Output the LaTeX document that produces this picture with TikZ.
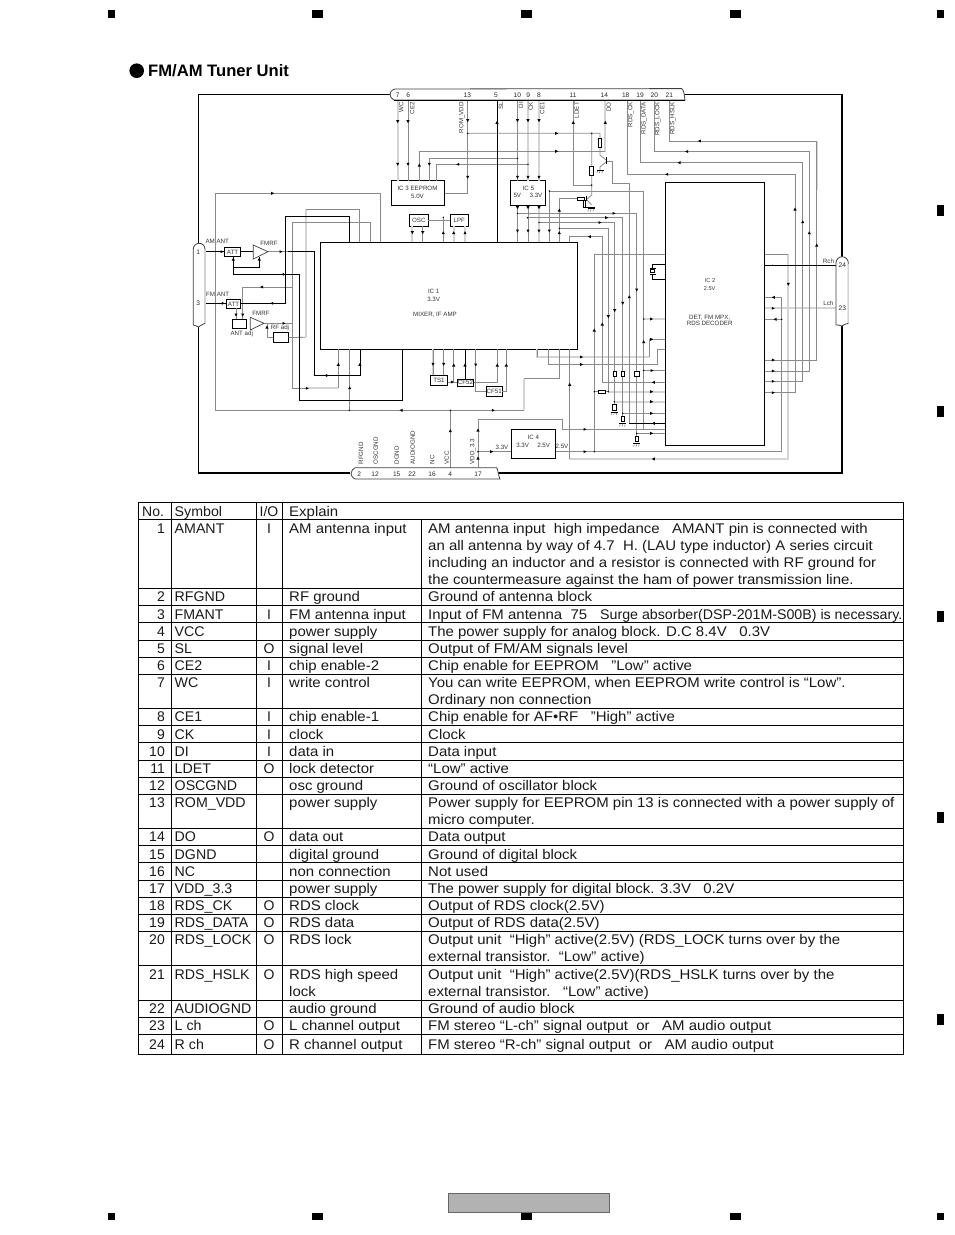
\documentclass[tikz,border=0pt]{standalone}
\usepackage{fontspec}
\setmainfont{Liberation Sans}
\newfontfamily\widefont[FakeStretch=1.07]{Liberation Sans}
\newfontfamily\symfont[FakeStretch=1.015]{Liberation Sans}
\usepackage{tikz}
\usetikzlibrary{arrows,positioning}

\definecolor{wiregray}{HTML}{8A8A8A}
\definecolor{wirelight}{HTML}{D4D4D4}

\tikzset{
  wire/.style={wiregray,line width=.8pt},
  wirek/.style={black,line width=1pt},
  wirel/.style={wirelight,line width=2pt},
  frameline/.style={black,line width=1.3pt},
  shell/.style={black!75,line width=.8pt},
  blk/.style={draw=black,line width=.9pt,fill=white,inner sep=0pt,outer sep=0pt},
  res/.style={blk,line width=.8pt},
  lbl/.style={inner sep=0pt,text=black!80,font=\fontsize{6.2}{7}\selectfont},
  pinno/.style={inner sep=0pt,text height=4.6pt,text depth=0pt,text=black!85,font=\fontsize{6.6}{7}\selectfont},
  cell/.style={inner sep=0pt,text=black!90,font=\fontsize{14}{15}\selectfont},
  cellwide/.style={cell,font=\widefont\fontsize{14}{15}\selectfont},
  cellsym/.style={cell,font=\symfont\fontsize{14}{15}\selectfont},
  grid/.style={black,line width=.9pt},
}

\newcommand{\tipd}[2]{\fill (#1,#2) ++(-1.6,-1.5) -- ++(3.2,0) -- ++(-1.6,3) -- cycle;}
\newcommand{\tipu}[2]{\fill (#1,#2) ++(-1.6,1.5) -- ++(3.2,0) -- ++(-1.6,-3) -- cycle;}
\newcommand{\tipr}[2]{\fill (#1,#2) ++(-1.5,-1.5) -- ++(0,3) -- ++(3,-1.5) -- cycle;}
\newcommand{\tipl}[2]{\fill (#1,#2) ++(1.5,-1.5) -- ++(0,3) -- ++(-3,-1.5) -- cycle;}
\newcommand{\dotat}[2]{\fill (#1,#2) circle (.8);}
\newcommand{\gnd}[2]{\draw[black,line width=.7pt] (#1-3.5,#2) -- (#1+3.5,#2);
  \draw[black!70,line width=.4pt] (#1-2.5,#2+1) -- ++(-.6,2) (#1,#2+1) -- ++(-.6,2) (#1+2.5,#2+1) -- ++(-.6,2);}
\newcommand{\tablerow}[6]{%
  \node[cell,anchor=base east] (no#2) at (165,#1+5) {#2};
  \node[cellsym,anchor=base west] (sym#2) at (174.5,#1+5) {#3};
  \if\relax\detokenize{#4}\relax\else\node[cell,anchor=base] (io#2) at (269,#1+5) {#4};\fi
  \node[cellwide,anchor=base west] (sig#2) at (289,#1+5) {#5};
  \node[cellwide,anchor=base west] (exp#2) at (428,#1+5) {#6};}
\newcommand{\tablemore}[4]{\node[cellwide,anchor=base west] (#1) at (#2,#3+5) {#4};}

\begin{document}
\begin{tikzpicture}[x=1pt,y=-1pt]
  \useasboundingbox (0,0) rectangle (954,1235);

  % page marks
  \fill (107.5,10) rectangle (114.5,17.5);
  \fill (311.5,10) rectangle (322.5,17.5);
  \fill (520.5,10) rectangle (531.5,17.5);
  \fill (729.5,10) rectangle (740.5,17.5);
  \fill (936.5,10) rectangle (943.5,17.5);
  \fill (936.5,205) rectangle (943.5,216);
  \fill (936.5,406) rectangle (943.5,417);
  \fill (936.5,611) rectangle (943.5,622);
  \fill (936.5,812) rectangle (943.5,823);
  \fill (936.5,1014) rectangle (943.5,1025);
  \fill (107.5,1212.5) rectangle (114.5,1219.5);
  \fill (311.5,1212.5) rectangle (322.5,1219.5);
  \fill (520.5,1212.5) rectangle (531.5,1219.5);
  \fill (729.5,1212.5) rectangle (740.5,1219.5);
  \fill (936.5,1212.5) rectangle (943.5,1219.5);
  \draw[draw=black!60,fill=black!30,line width=.8pt] (448.5,1193.5) rectangle (609.5,1212.5);

  % heading
  \fill (136.7,70.7) circle (7.3);
  \node[inner sep=0pt,anchor=base west,font=\fontsize{16.6}{18}\selectfont\bfseries] (title) at (148,76) {FM/AM Tuner Unit};

  % pins
  \coordinate (p7) at (397.7,100);
  \coordinate (p6) at (408,100);
  \coordinate (p13) at (467.7,100);
  \coordinate (p5) at (497,100);
  \coordinate (p10) at (517.5,100);
  \coordinate (p9) at (528,100);
  \coordinate (p8) at (539,100);
  \coordinate (p11) at (573.3,100);
  \coordinate (p14) at (605,100);
  \coordinate (p18) at (627,100);
  \coordinate (p19) at (640.7,100);
  \coordinate (p20) at (654.3,100);
  \coordinate (p21) at (669.3,100);
  \coordinate (p4) at (450.3,467.7);
  \coordinate (p17) at (478,467.7);
  \coordinate (p1) at (205,251.7);
  \coordinate (p3) at (205,303.3);
  \coordinate (p24) at (836,265.3);
  \coordinate (p23) at (836,308.3);

  % blocks
  \node[blk,minimum width=53pt,minimum height=24.5pt] (ic3) at (418.2,193) {};
  \node[blk,minimum width=18.3pt,minimum height=12pt] (osc) at (418.8,220) {};
  \node[blk,minimum width=18pt,minimum height=12pt] (lpf) at (459.3,220) {};
  \node[blk,minimum width=34.6pt,minimum height=25pt] (ic5) at (528,193.2) {};
  \node[blk,minimum width=257.4pt,minimum height=107pt] (ic1) at (449,295.8) {};
  \node[blk,minimum width=99.4pt,minimum height=263pt] (ic2) at (715,313.8) {};
  \node[blk,minimum width=44.4pt,minimum height=29pt] (ic4) at (533.5,444.2) {};
  \node[blk,minimum width=16.4pt,minimum height=8.6pt] (att1) at (232.5,252) {};
  \node[blk,minimum width=14pt,minimum height=8.6pt] (att2) at (233.5,303.9) {};
  \node[blk,minimum width=14.4pt,minimum height=9.4pt] (antadj) at (239.5,324) {};
  \node[blk,minimum width=15.4pt,minimum height=9.6pt] (rfadj) at (281,337.5) {};
  \node[blk,minimum width=17.4pt,minimum height=10pt] (ts1) at (439,380.3) {};
  \node[blk,minimum width=16.4pt,minimum height=7.7pt] (cf52) at (465.5,382.8) {};
  \node[blk,minimum width=16pt,minimum height=9.3pt] (cf51) at (494.3,391.3) {};

  % wires, light ones below
  \draw[wirel] (p7) -- (p7 |- ic3.north);
  \draw[wirel] (p9) -- (p9 |- ic5.north);
  \draw[wirel] (p8) -- (p8 |- ic5.north);
  \draw[wirel] (p14) -- (605,151.5);
  \draw[wirel] (412.3,226) -- (412.3,242.3);
  \draw[wirel] (453.7,226) -- (453.7,242.3);
  \draw[wirel] (465,226) -- (465,242.3);
  \draw[wirel] (539,205.7) -- (539,242.3);
  \draw[wirel,line width=1.4pt] (433,349.3) -- (433,375.3);
  \draw[wirel,line width=1.4pt] (443.7,349.3) -- (443.7,375.3);
  \draw[wirel] (305.7,209.3) -- (305.7,337.3);
  \draw[wirel] (307,388.3) -- (338.3,388.3);
  \draw[wirel] (537.3,349.3) |- (649.3,357);
  \draw[wirel] (524,410.3) -- (524,378.7);
  \draw[wirel] (569.3,458.7) -- (788.3,458.7) -- (788.3,254.3);
  \draw[wirel] (p23) -- (p23 -| ic2.east);
  \draw[wirel] (608.3,391.7) -- (665,391.7);
  \draw[wirel] (614.3,401.7) -- (665,401.7);
  \draw[wirel] (643.7,319) -- (665,319);
  \draw[wirel] (816.7,141) -- (816.7,190);

  % thin wires
  \draw[wire] (p6) -- (p6 |- ic3.north);
  \draw[wire] (p13) |- (ic3.east);
  \draw[wire] (p13 |- 0,133.3) -- (600,133.3) -- (600,155) -- (606,160);
  \draw[wire] (p10) -- (p10 |- ic5.north);
  \draw[wire] (419.3,180.7) |- (605,151.5);
  \draw[wire] (429.3,180.7) |- (p10 |- 0,158.3);
  \draw[wire] (436.7,180.7) |- (528,164.3);
  \draw[wire] (p11) |- (591.7,185);
  \draw[wire] (591.7,133.3) -- (591.7,195) -- (587,199);
  \draw[wire] (p18) |- (795,174.3) |- (ic2.east |- 0,392.7);
  \draw[wire] (p19) |- (802.7,162.7) |- (ic2.east |- 0,381.3);
  \draw[wire] (p20) |- (809.3,151.3) |- (ic2.east |- 0,371);
  \draw[wire] (p21) |- (816.7,141) |- (ic2.east |- 0,360);
  \draw[wire] (ic2.east |- 0,254.3) -- (788.3,254.3);
  \draw[wire] (osc.east) -- (lpf.west);
  \draw[wire] (443.3,217.3) -- (443.3,242.3);
  \draw[wire] (422.7,226) -- (422.7,242.3);
  \draw[wire] (517.5,205.7) -- (517.5,242.3);
  \draw[wire] (528,205.7) -- (528,242.3);
  \draw[wire] (p10 |- 0,213.3) -- (636.7,213.3) -- (636.7,433.3);
  \draw[wire] (527.3,217.7) -- (622.7,217.7) -- (622.7,413.3);
  \draw[wire] (539,222.3) -- (614.7,222.3) -- (614.7,401.7);
  \draw[wire] (559.3,228.3) -- (608.3,228.3) -- (608.3,391.7);
  \draw[wire] (569.3,242.3) |- (602.3,236.7) |- (ic2.west |- 0,382.3);
  \draw[wire] (549.3,242.3) |- (643.7,191) -- (643.7,429.3);
  \draw[wire] (559.3,242.3) |- (577,198.7);
  \draw[wire] (594.3,451.7) |- (ic2.west |- 0,254.3);
  \draw[wire] (605.5,161) -- (612.3,161) |- (629.3,183.3) |- (ic2.west |- 0,423.3);
  \draw[wire] (p4) -- (450.3,410.3);
  \draw[wire] (215,410.3) -- (524,410.3);
  \draw[wire] (215,410.3) |- (380.7,193.3) -- (380.7,242.3);
  \draw[wire] (349.3,410.3) -- (349.3,349.3);
  \draw[wire] (524,378.7) -| (559.7,349.3);
  \draw[wire] (p17) |- (562.3,419.3) |- (ic2.west |- 0,429.3);
  \draw[wire] (478,451.7) -- (ic4.west |- 0,451.7);
  \draw[wire] (ic4.east |- 0,451.7) -- (781.7,451.7) |- (ic2.east |- 0,297.3);
  \draw[wire] (781.7,319.3) -- (ic2.east |- 0,319.3);
  \draw[wire] (569.3,349.3) -- (569.3,458.7);
  \draw[wire] (537.3,349.3) -- (537.3,357);
  \draw[wire] (548.7,349.3) |- (657.7,364.3) |- (ic2.west |- 0,349.3);
  \draw[wire] (649.3,357) |- (ic2.west |- 0,339.3);
  \draw[wire] (643.7,370.5) -- (ic2.west |- 0,370.5);
  \draw[wire] (614.3,401.7) -- (614.3,405);
  \draw[wire] (622.7,413.3) -- (ic2.west |- 0,413.3);
  \draw[wire] (636.7,433.3) -- (ic2.west |- 0,433.3);
  \draw[wire] (622.7,413.3) -- (622.7,416);
  \draw[wire] (636.7,433.3) -- (636.7,436);
  \draw[wire] (594.3,391.7) -- (608.3,391.7);
  \draw[wire] (292,388.3) -- (292,222.3) -| (370.3,242.3);
  \draw[wire] (292,388.3) -- (307,388.3);
  \draw[wire] (338.3,388.3) -- (338.3,349.3);
  \draw[wire] (305.7,209.3) -| (359.7,242.3);
  \draw[wire] (rfadj.east) -- (305.7,337.3);
  \draw[wire] (242.7,319.3) |- (292,286.9);
  \draw[wire] (236,308.2) -- (236,319.3);
  \draw[wire] (264,323.3) -- (292,323.3);
  \draw[wire] (267,323.3) |- (rfadj.west);
  \draw[wire] (433,349.3) -- (433,375.3);
  \draw[wire] (443.7,349.3) -- (443.7,375.3);
  \draw[wire] (453.7,349.3) -- (453.7,382);
  \draw[wire] (ts1.east |- 0,382) -- (cf52.west |- 0,382);
  \draw[wire] (475.7,349.3) |- (cf51.west);
  \draw[wire] (cf52.east |- 0,382) -| (497.3,349.3);
  \draw[wire] (cf51.east) -| (506.3,349.3);
  \draw[wire] (268,251.7) -- (290,251.7);

  % black wires
  \draw[wirek] (p5) -- (p5 |- ic1.north);
  \draw[wirek] (p1) -- (att1.west |- p1);
  \draw[wirek] (p3) -- (att2.west |- p3);
  \draw[wirek] (att1.east |- p1) -- (253.3,251.7);
  \draw[wirek] (288,251.7) -| (314.3,375.7) -| (360.3,349.3);
  \draw[wirek] (233.3,256.3) |- (259.3,267.3) -- (259.3,257);
  \draw[wirek] (233.3,256.3) |- (299.7,274.3) |- (402.3,400.3) -- (402.3,349.3);
  \draw[wirek] (att2.east |- p3) -| (285.7,216.3) -| (349.3,242.3);
  \draw[wirek] (465,349.3) -- (465,379);
  \draw[wirek] (ic2.east |- p24) -- (p24);
  \draw[wirek] (629.3,423.3) -- (ic2.west |- 0,423.3);

  % crystal beside IC 2
  \draw[wirek,line width=.8pt] (ic2.west |- 0,264.3) -- (652.7,264.3) -- (652.7,268);
  \draw[wirek,line width=.8pt] (ic2.west |- 0,279) -- (652.7,279) -- (652.7,274.5);
  \draw[wirek,line width=.7pt] (649.7,268) -- (655.7,268) (649.7,274.5) -- (655.7,274.5);
  \node[res,minimum width=4pt,minimum height=3.2pt] (xtal) at (652.7,271.2) {};

  % amplifiers
  \draw[shell,fill=white,line width=.7pt] (253.3,245) -- (253.3,259) -- (268,251.7) -- cycle;
  \draw[shell,fill=white,line width=.7pt] (250.3,317.3) -- (250.3,330) -- (264,323.3) -- cycle;

  % transistors
  \draw[wirek] (606,157.3) -- (606,164);
  \draw[wire] (606,162) -- (600,167) -- (600,170);
  \gnd{600}{170}
  \draw[wirek] (586.7,196) -- (586.7,201.3);
  \draw[wire] (587,200) -- (591.5,205);
  \draw[wirek,line width=.8pt] (584,207.8) -- (595,207.8);
  \gnd{591}{208.4}

  % resistors
  \node[res,minimum width=3.3pt,minimum height=9pt] (r1) at (600,142.7) {};
  \node[res,minimum width=3.7pt,minimum height=9pt] (r2) at (591.7,170.7) {};
  \node[res,minimum width=6.7pt,minimum height=3.4pt] (r3) at (580.7,199) {};
  \node[res,minimum width=2.4pt,minimum height=7.3pt] (r4) at (584.5,203.7) {};
  \node[res,minimum width=3.4pt,minimum height=5pt] (r5) at (614.7,373.7) {};
  \node[res,minimum width=3.4pt,minimum height=5pt] (r6) at (622.7,373.7) {};
  \node[res,minimum width=4.4pt,minimum height=5pt] (r7) at (636.7,373.8) {};
  \node[res,minimum width=6.6pt,minimum height=3pt] (r8) at (601.7,391.8) {};
  \node[res,minimum width=4pt,minimum height=6.4pt] (r9) at (614.3,407.5) {};
  \node[res,minimum width=3pt,minimum height=5.4pt] (r10) at (622.7,419) {};
  \node[res,minimum width=3pt,minimum height=5.4pt] (r11) at (636.7,439) {};
  \gnd{614.3}{412}
  \gnd{622.7}{423.5}
  \gnd{636.7}{443.5}

  % arrow tips
  \tipd{397.7}{121.7} \tipd{397.7}{164.3} \tipd{408}{121.7} \tipd{408}{164.3}
  \tipd{467.7}{120.7} \tipd{467.7}{177.3} \tipu{497}{122.3}
  \tipu{419.3}{165} \tipd{429.3}{164.3} \tipl{457.7}{164.3}
  \tipr{556.7}{133.3} \tipr{556.7}{151.3}
  \tipd{517.5}{120.7} \tipd{528}{120.7} \tipd{539}{120.7}
  \tipd{517.5}{177.3} \tipd{528}{177.3} \tipd{539}{177.3}
  \tipd{517.5}{207.7} \tipd{528}{207.7} \tipd{539}{207.7}
  \tipd{517.5}{231} \tipd{528}{231} \tipd{539}{231} \tipd{549.3}{231}
  \tipu{559.3}{210} \tipu{559.3}{232.7}
  \tipu{573.3}{122.3} \tipu{605.3}{122.3}
  \tipd{412.3}{232.7} \tipd{422.7}{232.7} \tipu{443.3}{232.7} \tipu{453.7}{232.7} \tipu{465}{232.7}
  \tipl{666.7}{174.3} \tipl{679}{162.7} \tipl{686.7}{151.5} \tipl{699.3}{141}
  \tipu{795}{209} \tipu{802.7}{221.7} \tipu{809.3}{232.7} \tipu{816.7}{245}
  \tipr{773.3}{392.7} \tipr{773.3}{381.3} \tipr{773.3}{371} \tipr{773.3}{360}
  \tipr{614}{213.3} \tipr{606.7}{217.7} \tipr{600}{222.5} \tipl{589.3}{236.7}
  \tipu{594.3}{330} \tipu{602.3}{324} \tipd{608.3}{316.7} \tipd{614.7}{310.7}
  \tipd{622.7}{303.3} \tipu{629.3}{296.7} \tipd{636.7}{290} \tipu{643.7}{341.7}
  \tipd{788.3}{284.3} \tipl{653.3}{458.9} \tipu{569.7}{384.3}
  \tipl{773.3}{297.3} \tipr{773.3}{308.3} \tipl{775}{319.3}
  \tipr{581.7}{357} \tipr{581.7}{364.5} \tipr{651.7}{319} \tipr{651.7}{339.3}
  \tipr{652}{370.5} \tipl{653.3}{382.3} \tipr{651.7}{391.7} \tipr{651.7}{401.7}
  \tipr{651.7}{413.3} \tipl{653.3}{423.3} \tipr{651.7}{433.3}
  \tipr{585}{429.3} \tipr{585}{451.7} \tipr{491.7}{451.7}
  \tipu{478}{430} \tipu{478}{458} \tipu{450.3}{430.7}
  \tipl{401}{410.3} \tipr{493.3}{410.3} \tipu{349.7}{387.7}
  \tipr{222}{251.7} \tipr{223.3}{303.3}
  \tipr{272.7}{193.3} \tipl{271.7}{303.3} \tipr{281}{251.7} \tipl{282.7}{274.3}
  \tipr{327.3}{375.5} \tipu{359.9}{364.3} \tipu{338.3}{364.3} \tipr{307.3}{388.3}
  \tipu{233.3}{259} \tipu{259.3}{259} \tipl{261.7}{287} \tipd{236}{315} \tipd{242.7}{315}
  \tipr{284}{323.3} \tipu{267}{327}
  \tipd{433}{364.3} \tipd{443.7}{364.3} \tipu{453.7}{365} \tipu{465}{365}
  \tipd{475.7}{365} \tipu{497.3}{365} \tipu{506.3}{365} \tipr{452.3}{382}

  % junctions
  \dotat{467.7}{133.3} \dotat{591.7}{133.3} \dotat{517.5}{158.3} \dotat{528}{164.3}
  \dotat{591.7}{185} \dotat{549.3}{191} \dotat{517.5}{213.3} \dotat{527.5}{217.7}
  \dotat{539}{222.3} \dotat{559.3}{228.3} \dotat{443.3}{217.3} \dotat{349.3}{410.3}
  \dotat{450.3}{410.3} \dotat{478}{451.7} \dotat{594.3}{451.7} \dotat{594.3}{391.7}
  \dotat{608.3}{391.7} \dotat{643.7}{319} \dotat{643.7}{370.5} \dotat{614.3}{401.7}
  \dotat{622.7}{413.3} \dotat{636.7}{433.3} \dotat{781.7}{319.3} \dotat{772.7}{265.3}

  % connector shells and frame
  \draw[frameline] (390,94.3) -- (198.5,94.3) -- (198.5,243.3);
  \draw[frameline] (198.5,327) -- (198.5,473) -- (350,473);
  \draw[frameline] (498,473) -- (842,473) -- (842,326);
  \draw[frameline] (842,257) -- (842,94.3) -- (684,94.3);
  \draw[shell,fill=white] (395,89) .. controls (391,90) and (390,93) .. (390,94.5) .. controls (390,97) and (392,99) .. (394,100) -- (685,100) -- (684,93.3) .. controls (683.5,91) and (683,89.5) .. (681.7,88.6) -- cycle;
  \draw[black,line width=.9pt] (394,100) -- (685,100);
  \draw[shell,fill=white] (193.3,325) -- (193.3,249) arc (180:0:5.85 and -5.7) -- (205,323.3) .. controls (201,325) and (199,326.5) .. (198.5,327) .. controls (197,326) and (195,325.5) .. (193.3,325);
  \draw[wirel,line width=1.5pt] (205,250) -- (205,323);
  \draw[shell,fill=white] (355,467.7) -- (496.7,467.7) .. controls (497.5,469) and (498,471) .. (498.3,473.3) .. controls (498.8,475.5) and (499.3,477.5) .. (500,479) -- (355,479) .. controls (352,477.5) and (351,475) .. (351,473.5) .. controls (351,471) and (353,469) .. (355,467.7);
  \draw[shell,fill=white] (836,325) -- (836,263) arc (180:0:6.15 and -6.3) -- (848.3,323.3) .. controls (845,324) and (843,325) .. (842,326) .. controls (840,325) and (838,325) .. (836,325);
  \draw[wirel,line width=1.5pt] (848.3,264) -- (848.3,323);

  % pin numbers
  \node[pinno] (n7) at (397.7,94.7) {7};
  \node[pinno] (n6) at (408.3,94.7) {6};
  \node[pinno] (n13) at (467.3,94.7) {13};
  \node[pinno] (n5) at (496,94.7) {5};
  \node[pinno] (n10) at (517.3,94.7) {10};
  \node[pinno] (n9) at (528.3,94.7) {9};
  \node[pinno] (n8) at (539,94.7) {8};
  \node[pinno] (n11) at (573,94.7) {11};
  \node[pinno] (n14) at (604.3,94.7) {14};
  \node[pinno] (n18) at (625.7,94.7) {18};
  \node[pinno] (n19) at (640,94.7) {19};
  \node[pinno] (n20) at (654.3,94.7) {20};
  \node[pinno] (n21) at (669.3,94.7) {21};
  \node[pinno] (n2) at (359.3,473.7) {2};
  \node[pinno] (n12) at (375,473.7) {12};
  \node[pinno] (n15) at (396.7,473.7) {15};
  \node[pinno] (n22) at (412,473.7) {22};
  \node[pinno] (n16) at (432,473.7) {16};
  \node[pinno] (n4) at (450.3,473.7) {4};
  \node[pinno] (n17) at (478,473.7) {17};
  \node[pinno] (n1) at (198.3,251.7) {1};
  \node[pinno] (n3) at (198.3,302.7) {3};
  \node[pinno] (n24) at (842.3,265.5) {24};
  \node[pinno] (n23) at (842.3,308.5) {23};

  % signal names along the pins
  \node[lbl,rotate=90,anchor=east] (sWC) at (401.3,102) {WC};
  \node[lbl,rotate=90,anchor=east] (sCE2) at (412.3,102) {CE2};
  \node[lbl,rotate=90,anchor=east] (sROM) at (461.7,102) {ROM\_VDD};
  \node[lbl,rotate=90,anchor=east] (sSL) at (501,102) {SL};
  \node[lbl,rotate=90,anchor=east] (sDI) at (521,102) {DI};
  \node[lbl,rotate=90,anchor=east] (sCK) at (530.7,102) {CK};
  \node[lbl,rotate=90,anchor=east] (sCE1) at (542.3,102) {CE1};
  \node[lbl,rotate=90,anchor=east] (sLDET) at (576.7,102) {LDET};
  \node[lbl,rotate=90,anchor=east] (sDO) at (608.7,102) {DO};
  \node[lbl,rotate=90,anchor=east] (sRCK) at (630.7,102) {RDS\_CK};
  \node[lbl,rotate=90,anchor=east] (sRDATA) at (644,102) {RDS\_DATA};
  \node[lbl,rotate=90,anchor=east] (sRLOCK) at (657.7,102) {RDS\_LOCK};
  \node[lbl,rotate=90,anchor=east] (sRHSLK) at (672.7,102) {RDS\_HSLK};
  \node[lbl,rotate=90,anchor=west] (sRFGND) at (361,464.5) {RFGND};
  \node[lbl,rotate=90,anchor=west] (sOSCGND) at (375.7,464.5) {OSCGND};
  \node[lbl,rotate=90,anchor=west] (sDGND) at (396.7,464.5) {DGND};
  \node[lbl,rotate=90,anchor=west] (sAUDIO) at (412.7,464.5) {AUDIOGND};
  \node[lbl,rotate=90,anchor=west] (sNC) at (432.3,464.5) {NC};
  \node[lbl,rotate=90,anchor=west] (sVCC) at (446.7,464.5) {VCC};
  \node[lbl,rotate=90,anchor=west] (sVDD) at (472.7,464.5) {VDD\_3.3};

  % block texts
  \node[lbl] (t3a) at (417.5,188.5) {IC 3 EEPROM};
  \node[lbl] (t3b) at (417.5,196.5) {5.0V};
  \node[lbl] (tosc) at (418.8,220) {OSC};
  \node[lbl] (tlpf) at (459.3,220) {LPF};
  \node[lbl] (t5a) at (528.3,188.3) {IC 5};
  \node[lbl] (t5b) at (517.3,195.7) {5V};
  \node[lbl] (t5c) at (536,195.7) {3.3V};
  \node[lbl] (t1a) at (433.7,291.7) {IC 1};
  \node[lbl] (t1b) at (433.7,299.7) {3.3V};
  \node[lbl] (t1c) at (435,314.3) {MIXER, IF AMP};
  \node[lbl,font=\fontsize{5.6}{6}\selectfont] (t2a) at (710,281) {IC 2};
  \node[lbl,font=\fontsize{5.6}{6}\selectfont] (t2b) at (709.7,288.7) {2.5V};
  \node[lbl] (t2c) at (709.7,317.7) {DET, FM MPX,};
  \node[lbl] (t2d) at (709.7,323.7) {RDS DECODER};
  \node[lbl] (t4a) at (533.3,437.3) {IC 4};
  \node[lbl] (t4b) at (522.7,445.3) {3.3V};
  \node[lbl] (t4c) at (543.7,445.3) {2.5V};
  \node[lbl] (v33) at (502,447) {3.3V};
  \node[lbl] (v25) at (562,446.5) {2.5V};
  \node[lbl] (tatta) at (232.5,252) {ATT};
  \node[lbl] (tattb) at (233.5,303.9) {ATT};
  \node[lbl] (tam) at (217.3,241.7) {AM ANT};
  \node[lbl] (tfm) at (217.7,294.7) {FM ANT};
  \node[lbl] (trfa) at (269,243.7) {FMRF};
  \node[lbl] (trfb) at (261,313.7) {FMRF};
  \node[lbl] (tant) at (241.7,333.7) {ANT adj};
  \node[lbl] (trf) at (280,328.3) {RF adj};
  \node[lbl] (tts1) at (439,380.3) {TS1};
  \node[lbl] (tcf52) at (465.5,382.8) {CF52};
  \node[lbl] (tcf51) at (494.3,391.3) {CF51};
  \node[lbl] (trch) at (828.5,261) {Rch};
  \node[lbl] (tlch) at (828.3,303.3) {Lch};

  % table
  \draw[grid] (138,502) rectangle (903,1054);
  \foreach \ry in {519,588,605,622.5,640,657,674,708,725,742.5,760,777,794,828,845,862.5,880,897,914,931,965,1000,1017,1034.5}
    \draw[grid] (138,\ry) -- (903,\ry);
  \foreach \cx in {171,256,282.7}
    \draw[grid] (\cx,502) -- (\cx,1054);
  \draw[grid] (421,519) -- (421,1054);

  \node[cell,anchor=base west] (hno) at (142,516) {No.};
  \node[cellsym,anchor=base west] (hsym) at (174.5,516) {Symbol};
  \node[cell,anchor=base] (hio) at (269,516) {I/O};
  \node[cellwide,anchor=base west] (hexp) at (289,516) {Explain};

  \tablerow{528}{1}{AMANT}{I}{AM antenna input}{AM antenna input~~high impedance~~~AMANT pin is connected with}
  \tablemore{m1a}{428}{545}{an all antenna by way of 4.7~~H. (LAU type inductor) A series circuit}
  \tablemore{m1b}{428}{562}{including an inductor and a resistor is connected with RF ground for}
  \tablemore{m1c}{428}{579}{the countermeasure against the ham of power transmission line.}
  \tablerow{596}{2}{RFGND}{}{RF ground}{Ground of antenna block}
  \tablerow{614}{3}{FMANT}{I}{FM antenna input}{Input of FM antenna~~75}
  \node[cellsym,anchor=base west] (m3) at (600,619) {Surge absorber(DSP-201M-S00B) is necessary.};
  \tablerow{631}{4}{VCC}{}{power supply}{The power supply for analog block. D.C 8.4V~~~0.3V}
  \tablerow{648}{5}{SL}{O}{signal level}{Output of FM/AM signals level}
  \tablerow{665}{6}{CE2}{I}{chip enable-2}{Chip enable for EEPROM~~~”Low” active}
  \tablerow{682}{7}{WC}{I}{write control}{You can write EEPROM, when EEPROM write control is “Low”.}
  \tablemore{m7}{428}{699}{Ordinary non connection}
  \tablerow{716}{8}{CE1}{I}{chip enable-1}{Chip enable for AF•RF~~~”High” active}
  \tablerow{734}{9}{CK}{I}{clock}{Clock}
  \tablerow{751}{10}{DI}{I}{data in}{Data input}
  \tablerow{768}{11}{LDET}{O}{lock detector}{“Low” active}
  \tablerow{785}{12}{OSCGND}{}{osc ground}{Ground of oscillator block}
  \tablerow{802}{13}{ROM\_VDD}{}{power supply}{Power supply for EEPROM pin 13 is connected with a power supply of}
  \tablemore{m13}{428}{819}{micro computer.}
  \tablerow{836}{14}{DO}{O}{data out}{Data output}
  \tablerow{854}{15}{DGND}{}{digital ground}{Ground of digital block}
  \tablerow{871}{16}{NC}{}{non connection}{Not used}
  \tablerow{888}{17}{VDD\_3.3}{}{power supply}{The power supply for digital block. 3.3V~~~0.2V}
  \tablerow{905}{18}{RDS\_CK}{O}{RDS clock}{Output of RDS clock(2.5V)}
  \tablerow{922}{19}{RDS\_DATA}{O}{RDS data}{Output of RDS data(2.5V)}
  \tablerow{939}{20}{RDS\_LOCK}{O}{RDS lock}{Output unit~~“High” active(2.5V) (RDS\_LOCK turns over by the}
  \tablemore{m20}{428}{956}{external transistor.~~“Low” active)}
  \tablerow{974}{21}{RDS\_HSLK}{O}{RDS high speed}{Output unit~~“High” active(2.5V)(RDS\_HSLK turns over by the}
  \tablemore{m21a}{289}{991}{lock}
  \tablemore{m21b}{428}{991}{external transistor.~~~“Low” active)}
  \tablerow{1008}{22}{AUDIOGND}{}{audio ground}{Ground of audio block}
  \tablerow{1025}{23}{L ch}{O}{L channel output}{FM stereo “L-ch” signal output~~or~~~AM audio output}
  \tablerow{1044}{24}{R ch}{O}{R channel output}{FM stereo “R-ch” signal output~~or~~~AM audio output}
\end{tikzpicture}
\end{document}
